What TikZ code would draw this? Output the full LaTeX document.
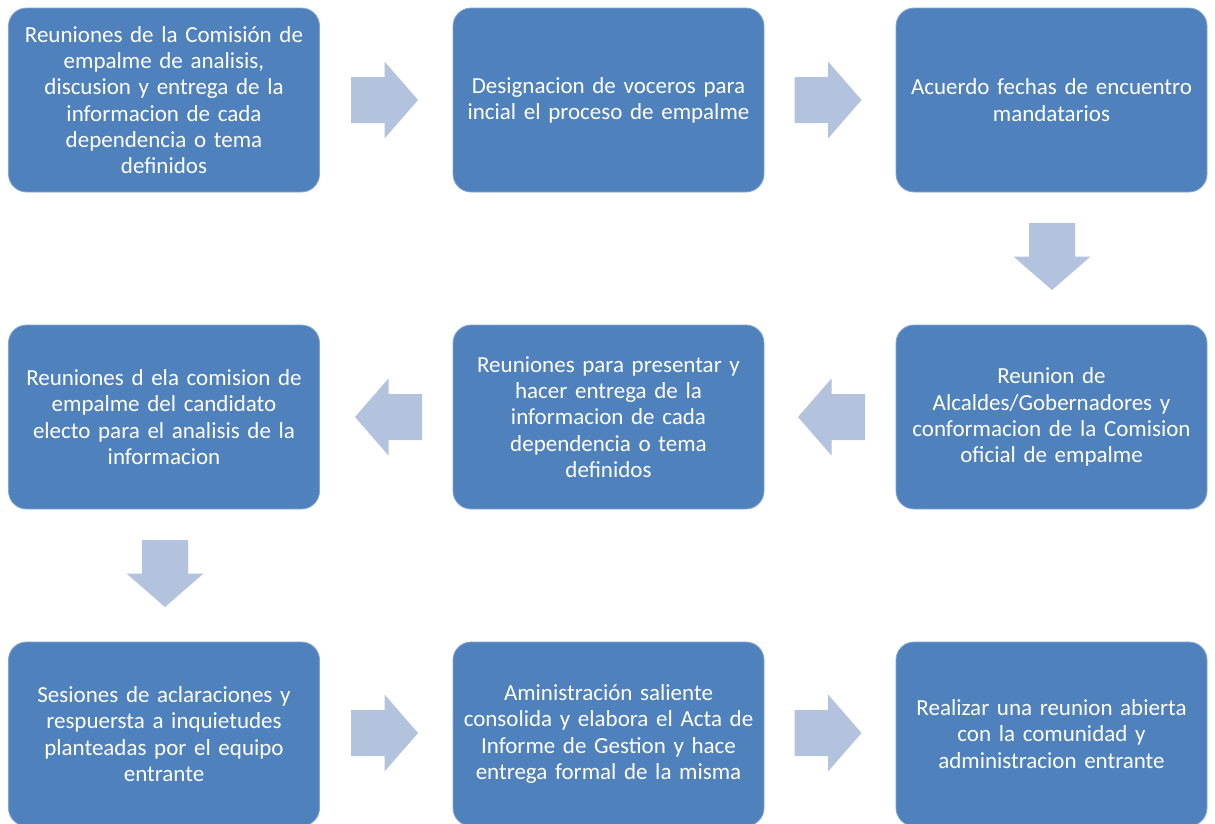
\documentclass[tikz,border=0pt]{standalone}
\usepackage{fontspec}
\setmainfont{Carlito}
\definecolor{boxblue}{HTML}{4F81BD}
\definecolor{arrowblue}{HTML}{B3C2DD}
\tikzset{
  box/.style={rectangle, rounded corners=18pt, fill=boxblue, draw=boxblue!70!white, line width=0.8pt,
    minimum width=311pt, minimum height=184pt, text width=305pt, align=center, text=white,
    font=\fontsize{23}{26.2}\selectfont, inner sep=0pt},
  blockarrow/.pic={
    \fill[arrowblue] (-33.5,-23) -- (0,-23) -- (0,-38.5) -- (33.5,0) -- (0,38.5) -- (0,23) -- (-33.5,23) -- cycle;
  }
}
\begin{document}
\begin{tikzpicture}[x=1pt,y=-1pt]
\clip (0,0) rectangle (1215,823);
\fill[white] (0,0) rectangle (1215,823);

% row 1
\node[box] (b1) at (164,100) {Reuniones de la Comisión de\\empalme de analisis,\\discusion y entrega de la\\informacion de cada\\dependencia o tema\\definidos};
\node[box] (b2) at (608.5,100) {Designacion de voceros para\\incial el proceso de empalme};
\node[box] (b3) at (1051.5,100) {Acuerdo fechas de encuentro\\mandatarios};
% row 2
\node[box] (b4) at (1051.5,417) {Reunion de\\Alcaldes/Gobernadores y\\conformacion de la Comision\\oficial de empalme};
\node[box] (b5) at (608.5,417) {Reuniones para presentar y\\hacer entrega de la\\informacion de cada\\dependencia o tema\\definidos};
\node[box] (b6) at (164,417) {Reuniones d ela comision de\\empalme del candidato\\electo para el analisis de la\\informacion};
% row 3
\node[box] (b7) at (164,734) {Sesiones de aclaraciones y\\respuersta a inquietudes\\planteadas por el equipo\\entrante};
\node[box] (b8) at (608.5,734) {Aministración saliente\\consolida y elabora el Acta de\\Informe de Gestion y hace\\entrega formal de la misma};
\node[box] (b9) at (1051.5,734) {Realizar una reunion abierta\\con la comunidad y\\administracion entrante};

% block arrows
\pic at (384.5,100) {blockarrow};
\pic at (828,100) {blockarrow};
\pic[rotate=-90] at (1052,256.5) {blockarrow};
\pic[rotate=180] at (831.5,417) {blockarrow};
\pic[rotate=180] at (388.5,417) {blockarrow};
\pic[rotate=-90] at (165,573.5) {blockarrow};
\pic at (384.5,733) {blockarrow};
\pic at (828,733) {blockarrow};
\end{tikzpicture}
\end{document}
